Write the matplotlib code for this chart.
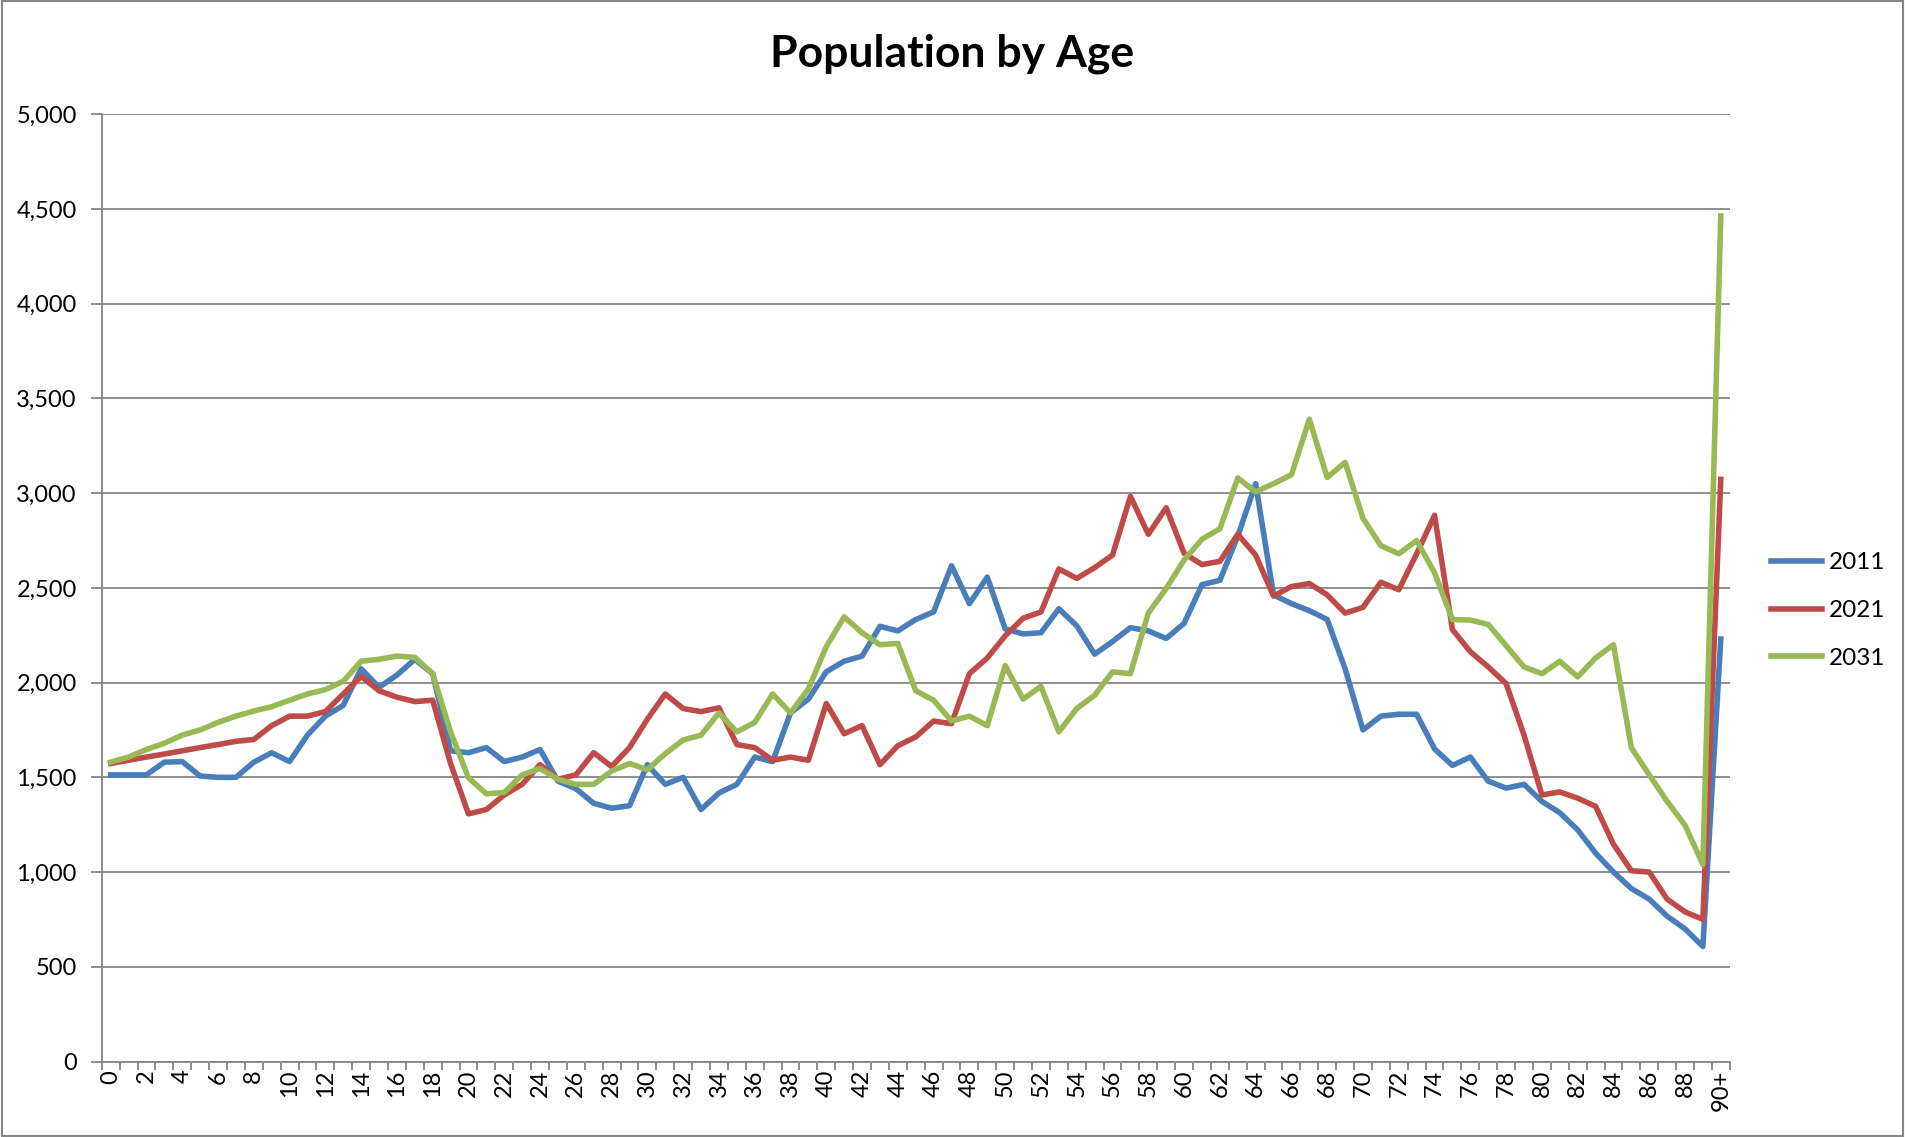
import numpy as np
import matplotlib
matplotlib.use("Agg")
import matplotlib.pyplot as plt
from matplotlib.ticker import FuncFormatter, FixedLocator

plt.rcParams['font.family'] = ['Lato', 'DejaVu Sans']

ages = [str(a) for a in range(90)] + ["90+"]

pop_2011 = [1513, 1513, 1513, 1580, 1583, 1507, 1500, 1500, 1580, 1630,
            1583, 1723, 1823, 1880, 2073, 1975, 2040, 2123, 2047, 1640,
            1630, 1657, 1583, 1607, 1647, 1480, 1440, 1363, 1337, 1350,
            1567, 1463, 1500, 1330, 1417, 1463, 1607, 1583, 1840, 1913,
            2057, 2113, 2140, 2297, 2273, 2333, 2373, 2617, 2417, 2557,
            2283, 2257, 2263, 2390, 2300, 2150, 2217, 2290, 2273, 2233,
            2313, 2517, 2540, 2773, 3050, 2463, 2417, 2380, 2333, 2073,
            1750, 1823, 1833, 1833, 1650, 1563, 1607, 1480, 1443, 1463,
            1373, 1313, 1223, 1100, 1000, 913, 857, 767, 700, 607,
            2230]

pop_2021 = [1573, 1590, 1607, 1623, 1640, 1657, 1673, 1690, 1700, 1773,
            1823, 1823, 1847, 1940, 2033, 1957, 1923, 1900, 1907, 1573,
            1307, 1330, 1407, 1463, 1567, 1490, 1513, 1630, 1557, 1657,
            1807, 1940, 1863, 1847, 1867, 1673, 1657, 1590, 1607, 1590,
            1890, 1730, 1773, 1567, 1667, 1713, 1797, 1783, 2047, 2130,
            2247, 2340, 2373, 2600, 2550, 2607, 2673, 2983, 2783, 2923,
            2683, 2623, 2640, 2783, 2673, 2457, 2507, 2523, 2463, 2367,
            2397, 2530, 2490, 2680, 2883, 2280, 2163, 2083, 1995, 1723,
            1407, 1423, 1390, 1347, 1147, 1007, 1000, 857, 790, 750,
            3073]

pop_2031 = [1580, 1607, 1647, 1680, 1723, 1750, 1790, 1823, 1850, 1873,
            1907, 1940, 1963, 2007, 2113, 2123, 2140, 2133, 2047, 1740,
            1497, 1413, 1420, 1513, 1547, 1490, 1463, 1463, 1533, 1573,
            1540, 1625, 1697, 1723, 1840, 1740, 1790, 1940, 1840, 1967,
            2190, 2347, 2263, 2200, 2207, 1957, 1907, 1797, 1823, 1773,
            2090, 1913, 1980, 1740, 1863, 1933, 2057, 2047, 2367, 2497,
            2647, 2757, 2812, 3080, 3007, 3050, 3097, 3390, 3083, 3163,
            2867, 2723, 2680, 2750, 2580, 2333, 2330, 2307, 2195, 2083,
            2047, 2113, 2030, 2130, 2200, 1657, 1513, 1373, 1247, 1040,
            4463]

x = np.arange(len(ages))

fig = plt.figure(figsize=(19.05, 11.37), dpi=100)
ax = fig.add_axes([0.0534, 0.0664, 0.8546, 0.8331])

ax.plot(x, pop_2011, color="#4A7EBB", lw=4, label="2011")
ax.plot(x, pop_2021, color="#BE4B48", lw=4, label="2021")
ax.plot(x, pop_2031, color="#98B954", lw=4, label="2031")

ax.set_xlim(-0.5, len(ages) - 0.5)
ax.set_ylim(0, 5000)
ax.set_yticks(np.arange(0, 5001, 500))
ax.yaxis.set_major_formatter(FuncFormatter(lambda v, p: f"{int(v):,}"))
ax.grid(axis="y", color="#868686", lw=1.3)
ax.set_axisbelow(True)

# labels every second age, tick marks on category edges
ax.xaxis.set_major_locator(FixedLocator(x[::2]))
ax.set_xticklabels(ages[::2], rotation=90)
ax.xaxis.set_minor_locator(FixedLocator(np.arange(-0.5, len(ages), 1)))
ax.tick_params(axis="x", which="major", length=0, labelsize=17, pad=6)
ax.tick_params(axis="x", which="minor", length=6, width=1.3, color="#868686")
ax.tick_params(axis="y", length=8, width=1.3, color="#868686", labelsize=17, pad=10)

for s in ["top", "right"]:
    ax.spines[s].set_visible(False)
for s in ["left", "bottom"]:
    ax.spines[s].set_color("#868686")
    ax.spines[s].set_linewidth(1.3)

fig.text(0.5, 0.953, "Population by Age", ha="center", va="center",
         fontsize=32, fontweight="bold")

fig.legend(loc="center left", bbox_to_anchor=(0.918, 0.463), frameon=False,
           fontsize=17.5, handlelength=2.1, handletextpad=0.3, labelspacing=1.1)

fig.patches.append(plt.Rectangle((0.001, 0.001), 0.998, 0.998, transform=fig.transFigure,
                                 fill=False, edgecolor="#868686", lw=1.5))

fig.savefig("out.png", dpi=100)
